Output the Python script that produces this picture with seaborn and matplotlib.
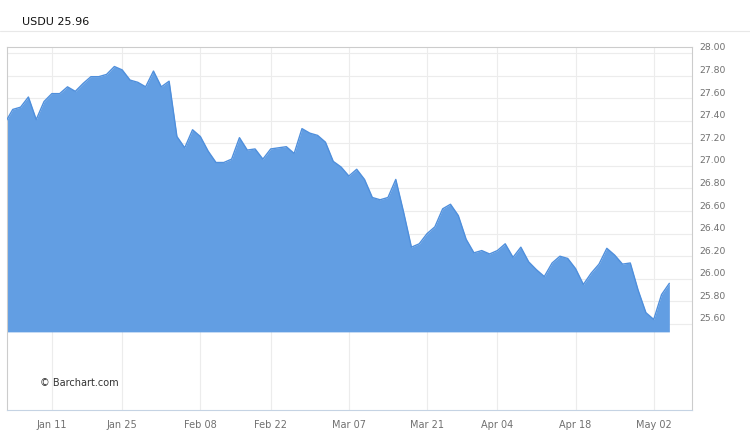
import pandas as pd
import matplotlib
matplotlib.use("Agg")
import matplotlib.pyplot as plt
import matplotlib.transforms as mtransforms
from matplotlib.lines import Line2D
import seaborn as sns

# trading days Dec 31 2015 .. May 04 2016 (USDU close)
dates = ["2015-12-31",
         "2016-01-04", "2016-01-05", "2016-01-06", "2016-01-07", "2016-01-08",
         "2016-01-11", "2016-01-12", "2016-01-13", "2016-01-14", "2016-01-15",
         "2016-01-19", "2016-01-20", "2016-01-21", "2016-01-22",
         "2016-01-25", "2016-01-26", "2016-01-27", "2016-01-28", "2016-01-29",
         "2016-02-01", "2016-02-02", "2016-02-03", "2016-02-04", "2016-02-05",
         "2016-02-08", "2016-02-09", "2016-02-10", "2016-02-11", "2016-02-12",
         "2016-02-16", "2016-02-17", "2016-02-18", "2016-02-19",
         "2016-02-22", "2016-02-23", "2016-02-24", "2016-02-25", "2016-02-26",
         "2016-02-29", "2016-03-01", "2016-03-02", "2016-03-03", "2016-03-04",
         "2016-03-07", "2016-03-08", "2016-03-09", "2016-03-10", "2016-03-11",
         "2016-03-14", "2016-03-15", "2016-03-16", "2016-03-17", "2016-03-18",
         "2016-03-21", "2016-03-22", "2016-03-23", "2016-03-24",
         "2016-03-28", "2016-03-29", "2016-03-30", "2016-03-31", "2016-04-01",
         "2016-04-04", "2016-04-05", "2016-04-06", "2016-04-07", "2016-04-08",
         "2016-04-11", "2016-04-12", "2016-04-13", "2016-04-14", "2016-04-15",
         "2016-04-18", "2016-04-19", "2016-04-20", "2016-04-21", "2016-04-22",
         "2016-04-25", "2016-04-26", "2016-04-27", "2016-04-28", "2016-04-29",
         "2016-05-02", "2016-05-03", "2016-05-04"]

closes = [27.38,
          27.50, 27.52, 27.61, 27.41, 27.57,
          27.64, 27.64, 27.70, 27.66, 27.73,
          27.79, 27.79, 27.81, 27.88,
          27.85, 27.76, 27.74, 27.70, 27.84,
          27.70, 27.75, 27.26, 27.16, 27.32,
          27.26, 27.13, 27.03, 27.03, 27.06,
          27.25, 27.14, 27.15, 27.06,
          27.15, 27.16, 27.17, 27.11, 27.33,
          27.29, 27.27, 27.21, 27.04, 26.99,
          26.91, 26.97, 26.88, 26.72, 26.70,
          26.72, 26.88, 26.59, 26.28, 26.31,
          26.40, 26.46, 26.62, 26.66,
          26.56, 26.35, 26.23, 26.25, 26.22,
          26.25, 26.31, 26.19, 26.28, 26.15,
          26.08, 26.02, 26.14, 26.20, 26.18,
          26.09, 25.95, 26.05, 26.13, 26.27,
          26.21, 26.13, 26.14, 25.90, 25.70,
          25.64, 25.86, 25.96]

tick_dates = ["2016-01-11", "2016-01-25", "2016-02-08", "2016-02-22", "2016-03-07",
              "2016-03-21", "2016-04-04", "2016-04-18", "2016-05-02"]
tick_labels = ["Jan 11", "Jan 25", "Feb 08", "Feb 22", "Mar 07",
               "Mar 21", "Apr 04", "Apr 18", "May 02"]
y_ticks = [25.60, 25.80, 26.00, 26.20, 26.40, 26.60, 26.80,
           27.00, 27.20, 27.40, 27.60, 27.80, 28.00]

df = pd.DataFrame({"date": dates, "close": closes})
df["i"] = range(len(df))
tick_pos = [dates.index(d) for d in tick_dates]

sns.set_style("white")
plt.rcParams["font.family"] = ["DejaVu Sans"]

fig = plt.figure(figsize=(7.5, 4.33), dpi=100)
ax = fig.add_axes([0.009, 0.0531, 0.9137, 0.8384])

grid_c = "#ececec"
for y in y_ticks:
    ax.axhline(y, color=grid_c, lw=0.8, zorder=0)
for x in tick_pos:
    ax.axvline(x, color=grid_c, lw=0.8, zorder=0)

base = 25.53
ax.fill_between(df["i"], df["close"], base, color="#629ee3", lw=0, zorder=2)
sns.lineplot(data=df, x="i", y="close", ax=ax, color="#4f8fdc", lw=1.0, zorder=3)

ax.set_xlim(0.23, 87.9)
ax.set_ylim(24.838, 28.053)

ax.set_xticks(tick_pos)
ax.set_xticklabels(tick_labels)
ax.set_yticks(y_ticks)
ax.set_yticklabels(["%.2f" % v for v in y_ticks])
ax.yaxis.tick_right()
ax.tick_params(axis="y", length=0, pad=5, labelsize=6.7, colors="#707070")
ax.tick_params(axis="x", length=5, width=0.8, color="#c5d3e3", pad=2,
               labelsize=7, labelcolor="#707070", direction="out")
# barchart puts the price labels just above their grid lines
off = mtransforms.ScaledTranslation(0, 6 / 100, fig.dpi_scale_trans)
for lab in ax.get_yticklabels():
    lab.set_transform(lab.get_transform() + off)

ax.set_xlabel("")
ax.set_ylabel("")
for side in ["top", "left", "right"]:
    ax.spines[side].set_color("#cccccc")
    ax.spines[side].set_linewidth(0.8)
ax.spines["bottom"].set_color("#c5d3e3")
ax.spines["bottom"].set_linewidth(0.8)

ax.text(0.048, 0.075, "© Barchart.com", transform=ax.transAxes,
        fontsize=7, color="#333333", va="center")

fig.text(22 / 750, 1 - 22 / 433, "USDU 25.96", fontsize=8, color="#111111",
         va="center", ha="left")
fig.add_artist(Line2D([0, 1], [1 - 31 / 433, 1 - 31 / 433], color="#e8e8e8",
                      lw=0.8, transform=fig.transFigure))

fig.savefig("out.png", dpi=100)
